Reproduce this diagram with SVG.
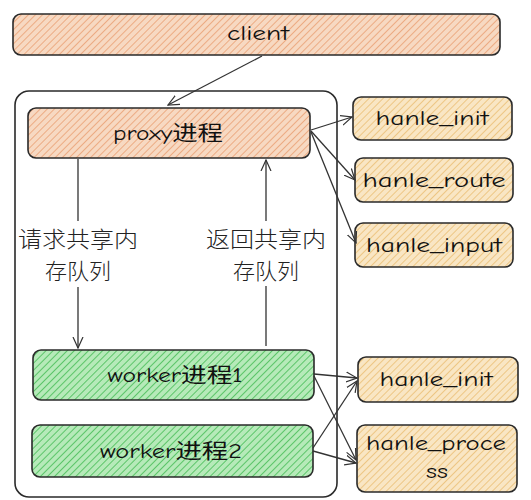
<svg xmlns="http://www.w3.org/2000/svg" width="531" height="500" viewBox="0 0 531 500">
<style>
.box{stroke:#2a2a2a;stroke-width:1.6}
.t{font-family:"Comic Neue","DejaVu Sans","Noto Sans CJK SC",sans-serif;font-size:21px;fill:#111;text-anchor:middle;dominant-baseline:central}
.c{font-family:"Noto Sans CJK SC","Liberation Sans",sans-serif;font-size:22px;fill:#222;text-anchor:middle;dominant-baseline:central;font-weight:300}
.e{fill:none;stroke:#333;stroke-width:1.3}
</style>
<defs>
<pattern id="po" width="5" height="5" patternUnits="userSpaceOnUse" patternTransform="rotate(45)">
<rect width="5" height="5" fill="#f7d9c2"/><line x1="0" y1="0" x2="0" y2="5" stroke="#ea9f73" stroke-width="1.6"/>
</pattern>
<pattern id="py" width="5" height="5" patternUnits="userSpaceOnUse" patternTransform="rotate(45)">
<rect width="5" height="5" fill="#f9e6c4"/><line x1="0" y1="0" x2="0" y2="5" stroke="#e9bc6e" stroke-width="1.5"/>
</pattern>
<pattern id="pg" width="5" height="5" patternUnits="userSpaceOnUse" patternTransform="rotate(45)">
<rect width="5" height="5" fill="#b6eab9"/><line x1="0" y1="0" x2="0" y2="5" stroke="#4cbf5a" stroke-width="1.7"/>
</pattern>
<marker id="a" viewBox="0 0 12 12" refX="11" refY="6" markerWidth="12" markerHeight="12" markerUnits="userSpaceOnUse" orient="auto">
<path d="M0,1 L11,6 L0,11" fill="none" stroke="#333" stroke-width="1.2"/>
</marker>
</defs>
<rect width="531" height="500" fill="#fff"/>
<g id="container"><rect x="15" y="91" width="322" height="406" rx="14" fill="none" class="box"/></g>
<g id="client"><rect x="13" y="14" width="487" height="41" rx="8" fill="url(#po)" class="box"/><text x="258" y="33" class="t" textLength="62" lengthAdjust="spacingAndGlyphs">client</text></g>
<g id="proxy"><rect x="28" y="108" width="282" height="50" rx="8" fill="url(#po)" class="box"/><text x="168" y="133" class="t" textLength="110" lengthAdjust="spacingAndGlyphs">proxy进程</text></g>
<g id="worker1"><rect x="33" y="350" width="281" height="50" rx="8" fill="url(#pg)" class="box"/><text x="175" y="375" class="t" textLength="135" lengthAdjust="spacingAndGlyphs">worker进程1</text></g>
<g id="worker2"><rect x="32" y="425" width="281" height="52" rx="8" fill="url(#pg)" class="box"/><text x="171" y="451" class="t" textLength="142" lengthAdjust="spacingAndGlyphs">worker进程2</text></g>
<g id="h_init1"><rect x="353" y="97" width="159" height="43" rx="8" fill="url(#py)" class="box"/><text x="432" y="118" class="t" textLength="113" lengthAdjust="spacingAndGlyphs">hanle_init</text></g>
<g id="h_route"><rect x="355" y="158" width="158" height="44" rx="8" fill="url(#py)" class="box"/><text x="434" y="180" class="t" textLength="143" lengthAdjust="spacingAndGlyphs">hanle_route</text></g>
<g id="h_input"><rect x="355" y="223" width="158" height="44" rx="8" fill="url(#py)" class="box"/><text x="434" y="245" class="t" textLength="136" lengthAdjust="spacingAndGlyphs">hanle_input</text></g>
<g id="h_init2"><rect x="358" y="357" width="160" height="45" rx="8" fill="url(#py)" class="box"/><text x="436" y="379" class="t" textLength="113" lengthAdjust="spacingAndGlyphs">hanle_init</text></g>
<g id="h_process"><rect x="357" y="425" width="160" height="67" rx="8" fill="url(#py)" class="box"/><text x="436" y="443" class="t" textLength="140" lengthAdjust="spacingAndGlyphs">hanle_proce</text><text x="437" y="471" class="t" textLength="22" lengthAdjust="spacingAndGlyphs">ss</text></g>
<g id="labels">
<text x="78" y="237" class="c" textLength="120" lengthAdjust="spacingAndGlyphs">请求共享内</text><text x="78" y="269" class="c">存队列</text>
<text x="266" y="237" class="c" textLength="120" lengthAdjust="spacingAndGlyphs">返回共享内</text><text x="266" y="269" class="c">存队列</text>
</g>
<g id="connectors">
<path class="e" d="M262,56 L168,105" marker-end="url(#a)"/>
<path class="e" d="M78,159 L78,221 M78,287 L78,348" marker-end="url(#a)"/>
<path class="e" d="M266,346 L266,286 M266,221 L266,160" marker-end="url(#a)"/>
<path class="e" d="M311,130 L352,117" marker-end="url(#a)"/>
<path class="e" d="M311,131 L355,180" marker-end="url(#a)"/>
<path class="e" d="M311,132 L356,243" marker-end="url(#a)"/>
<path class="e" d="M314,374 L357,378" marker-end="url(#a)"/>
<path class="e" d="M314,376 L356,460" marker-end="url(#a)"/>
<path class="e" d="M313,448 L357,381" marker-end="url(#a)"/>
<path class="e" d="M313,451 L356,463" marker-end="url(#a)"/>
</g>
</svg>
